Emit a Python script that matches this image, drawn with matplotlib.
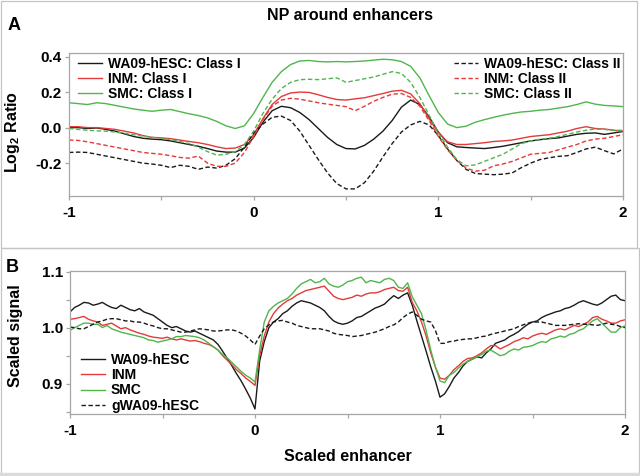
import numpy as np
import matplotlib
matplotlib.use('Agg')
import matplotlib.pyplot as plt
from matplotlib.patches import Rectangle

plt.rcParams['font.family'] = ['Liberation Sans', 'DejaVu Sans']
plt.rcParams['font.weight'] = 'bold'
plt.rcParams['mathtext.fontset'] = 'custom'
plt.rcParams['mathtext.rm'] = 'Liberation Sans:bold'
plt.rcParams['mathtext.bf'] = 'Liberation Sans:bold'

# ---- panel A: NP around enhancers (log2 ratio), x = -1 .. 2 step 0.05
x_a = np.round(np.arange(-1.0, 2.0001, 0.05), 3)

wa09_class1 = [
    0.000, 0.000, -0.005, -0.002, -0.010, -0.020, -0.035, -0.050, -0.060, -0.065,
    -0.068, -0.075, -0.085, -0.095, -0.105, -0.118, -0.132, -0.138, -0.138, -0.115,
    -0.055, 0.030, 0.095, 0.120, 0.112, 0.085, 0.045, -0.005, -0.055, -0.095,
    -0.118, -0.120, -0.100, -0.065, -0.020, 0.040, 0.115, 0.155, 0.130, 0.060,
    -0.025, -0.085, -0.108, -0.112, -0.115, -0.118, -0.112, -0.105, -0.095, -0.085,
    -0.075, -0.068, -0.062, -0.058, -0.048, -0.038, -0.032, -0.030, -0.038, -0.030, -0.022]
inm_class1 = [
    0.005, 0.005, 0.000, 0.000, -0.005, -0.010, -0.020, -0.030, -0.045, -0.055,
    -0.058, -0.062, -0.070, -0.078, -0.085, -0.095, -0.108, -0.118, -0.115, -0.095,
    -0.040, 0.050, 0.130, 0.175, 0.195, 0.200, 0.198, 0.185, 0.170, 0.158,
    0.155, 0.162, 0.168, 0.180, 0.192, 0.205, 0.210, 0.190, 0.135, 0.050,
    -0.030, -0.080, -0.095, -0.095, -0.090, -0.085, -0.078, -0.075, -0.070, -0.060,
    -0.050, -0.045, -0.040, -0.030, -0.020, -0.005, 0.005, -0.005, -0.008, -0.015, -0.020]
smc_class1 = [
    0.140, 0.135, 0.130, 0.140, 0.135, 0.125, 0.115, 0.105, 0.098, 0.092,
    0.098, 0.102, 0.090, 0.078, 0.068, 0.055, 0.035, 0.010, -0.005, 0.010,
    0.080, 0.170, 0.255, 0.315, 0.355, 0.375, 0.378, 0.372, 0.370, 0.372,
    0.370, 0.372, 0.375, 0.380, 0.385, 0.382, 0.372, 0.345, 0.280, 0.180,
    0.085, 0.020, 0.000, 0.008, 0.030, 0.045, 0.058, 0.070, 0.080, 0.088,
    0.092, 0.098, 0.102, 0.110, 0.118, 0.130, 0.145, 0.132, 0.125, 0.122, 0.118]
wa09_class2 = [
    -0.140, -0.138, -0.140, -0.150, -0.160, -0.170, -0.180, -0.190, -0.200, -0.205,
    -0.212, -0.225, -0.212, -0.218, -0.235, -0.222, -0.228, -0.212, -0.175, -0.110,
    -0.030, 0.020, 0.058, 0.065, 0.040, -0.020, -0.100, -0.180, -0.255, -0.315,
    -0.345, -0.345, -0.310, -0.245, -0.165, -0.090, -0.025, 0.015, 0.035, 0.015,
    -0.045, -0.120, -0.185, -0.235, -0.258, -0.262, -0.265, -0.262, -0.255, -0.225,
    -0.200, -0.180, -0.170, -0.162, -0.158, -0.140, -0.120, -0.110, -0.130, -0.148, -0.120]
inm_class2 = [
    -0.070, -0.072, -0.080, -0.090, -0.100, -0.110, -0.120, -0.130, -0.140, -0.145,
    -0.150, -0.158, -0.168, -0.172, -0.160, -0.200, -0.218, -0.218, -0.200, -0.140,
    -0.050, 0.045, 0.120, 0.155, 0.165, 0.160, 0.150, 0.140, 0.132, 0.125,
    0.118, 0.095, 0.120, 0.148, 0.170, 0.188, 0.192, 0.170, 0.120, 0.040,
    -0.050, -0.125, -0.185, -0.228, -0.245, -0.240, -0.215, -0.205, -0.190, -0.170,
    -0.150, -0.145, -0.140, -0.125, -0.110, -0.095, -0.075, -0.065, -0.060, -0.050, -0.040]
smc_class2 = [
    -0.005, -0.010, -0.015, -0.018, -0.020, -0.025, -0.032, -0.040, -0.048, -0.055,
    -0.060, -0.068, -0.078, -0.090, -0.110, -0.135, -0.155, -0.150, -0.135, -0.095,
    -0.020, 0.080, 0.160, 0.220, 0.255, 0.270, 0.272, 0.270, 0.275, 0.280,
    0.255, 0.265, 0.275, 0.285, 0.300, 0.315, 0.305, 0.255, 0.170, 0.070,
    -0.030, -0.110, -0.180, -0.215, -0.210, -0.190, -0.170, -0.150, -0.120, -0.090,
    -0.075, -0.065, -0.060, -0.050, -0.038, -0.025, -0.015, -0.008, -0.010, -0.015, -0.015]

# ---- panel B: scaled signal, x = -1 .. 2 step 0.025
x_b = np.round(np.arange(-1.0, 2.0001, 0.025), 3)
wa09_sig = [
    1.028, 1.036, 1.040, 1.045, 1.044, 1.040, 1.042, 1.045, 1.040, 1.036,
    1.034, 1.040, 1.036, 1.032, 1.030, 1.034, 1.028, 1.025, 1.022, 1.016,
    1.010, 1.004, 1.000, 1.002, 0.998, 0.994, 0.992, 0.994, 0.990, 0.986,
    0.982, 0.978, 0.970, 0.958, 0.945, 0.932, 0.918, 0.905, 0.890, 0.874,
    0.855, 0.940, 0.975, 1.000, 1.010, 1.016, 1.025, 1.030, 1.038, 1.044,
    1.048, 1.046, 1.044, 1.040, 1.036, 1.030, 1.020, 1.012, 1.008, 1.006,
    1.008, 1.012, 1.018, 1.020, 1.025, 1.030, 1.035, 1.038, 1.042, 1.050,
    1.057, 1.052, 1.058, 1.062, 1.040, 1.012, 0.985, 0.958, 0.930, 0.905,
    0.876, 0.882, 0.895, 0.910, 0.920, 0.932, 0.940, 0.944, 0.948, 0.946,
    0.955, 0.962, 0.972, 0.975, 0.978, 0.984, 0.988, 0.993, 1.000, 1.006,
    1.010, 1.012, 1.018, 1.022, 1.025, 1.028, 1.030, 1.034, 1.036, 1.040,
    1.045, 1.048, 1.045, 1.042, 1.040, 1.044, 1.050, 1.056, 1.058, 1.050,
    1.048]
inm_sig = [
    1.015, 1.016, 1.018, 1.020, 1.015, 1.012, 1.010, 1.004, 1.006, 1.008,
    1.003, 0.998, 1.000, 0.996, 0.993, 0.990, 0.988, 0.985, 0.983, 0.982,
    0.981, 0.983, 0.980, 0.978, 0.980, 0.978, 0.976, 0.977, 0.975, 0.972,
    0.970, 0.966, 0.960, 0.950, 0.942, 0.934, 0.925, 0.918, 0.910, 0.904,
    0.897, 0.950, 0.985, 1.010, 1.025, 1.035, 1.042, 1.048, 1.052, 1.058,
    1.062, 1.066, 1.068, 1.070, 1.072, 1.074, 1.065, 1.056, 1.052, 1.050,
    1.052, 1.054, 1.058, 1.056, 1.060, 1.062, 1.062, 1.064, 1.068, 1.070,
    1.072, 1.066, 1.065, 1.072, 1.045, 1.030, 1.010, 0.985, 0.955, 0.930,
    0.910, 0.908, 0.915, 0.925, 0.932, 0.940, 0.945, 0.946, 0.950, 0.955,
    0.962, 0.968, 0.968, 0.962, 0.966, 0.970, 0.975, 0.978, 0.982, 0.980,
    0.985, 0.988, 0.990, 0.988, 0.992, 0.996, 0.998, 0.996, 1.000, 1.004,
    1.002, 1.006, 1.010, 1.018, 1.020, 1.015, 1.012, 1.008, 1.008, 1.012,
    1.014]
smc_sig = [
    0.995, 1.000, 1.004, 1.008, 1.008, 1.006, 1.006, 1.000, 1.004, 0.998,
    0.995, 0.992, 0.990, 0.988, 0.986, 0.984, 0.982, 0.978, 0.977, 0.974,
    0.976, 0.978, 0.980, 0.984, 0.984, 0.986, 0.985, 0.984, 0.982, 0.978,
    0.972, 0.966, 0.960, 0.952, 0.946, 0.938, 0.930, 0.922, 0.915, 0.910,
    0.903, 0.960, 1.010, 1.030, 1.038, 1.044, 1.048, 1.052, 1.060, 1.070,
    1.078, 1.082, 1.086, 1.080, 1.082, 1.088, 1.078, 1.074, 1.072, 1.076,
    1.082, 1.084, 1.088, 1.090, 1.080, 1.084, 1.082, 1.080, 1.086, 1.088,
    1.084, 1.072, 1.070, 1.080, 1.055, 1.040, 1.025, 0.995, 0.960, 0.930,
    0.905, 0.902, 0.915, 0.920, 0.928, 0.935, 0.940, 0.944, 0.948, 0.952,
    0.958, 0.960, 0.955, 0.950, 0.952, 0.958, 0.962, 0.960, 0.965, 0.966,
    0.968, 0.972, 0.975, 0.974, 0.980, 0.982, 0.985, 0.983, 0.988, 0.990,
    0.995, 0.998, 1.005, 1.012, 1.016, 1.008, 1.000, 0.992, 0.992, 1.000,
    1.003]
gwa09_sig = [
    1.001, 1.000, 0.998, 0.998, 1.002, 1.006, 1.010, 1.012, 1.015, 1.016,
    1.016, 1.014, 1.012, 1.012, 1.010, 1.010, 1.008, 1.005, 1.003, 1.000,
    0.998, 0.998, 0.996, 0.994, 0.992, 0.992, 0.994, 0.996, 0.998, 0.997,
    0.996, 0.994, 0.994, 0.995, 0.996, 0.996, 0.994, 0.990, 0.985, 0.978,
    0.970, 0.985, 0.998, 1.005, 1.010, 1.012, 1.013, 1.010, 1.008, 1.004,
    1.002, 1.000, 0.998, 0.998, 0.998, 0.996, 0.994, 0.990, 0.988, 0.987,
    0.986, 0.984, 0.985, 0.986, 0.988, 0.990, 0.992, 0.995, 0.998, 1.002,
    1.005, 1.010, 1.018, 1.024, 1.028, 1.022, 1.015, 1.012, 1.010, 0.995,
    0.972, 0.972, 0.975, 0.976, 0.978, 0.979, 0.980, 0.980, 0.982, 0.984,
    0.985, 0.988, 0.990, 0.992, 0.994, 0.996, 0.998, 1.002, 1.005, 1.008,
    1.010, 1.010, 1.010, 1.008, 1.006, 1.004, 1.004, 1.004, 1.005, 1.006,
    1.007, 1.006, 1.006, 1.005, 1.004, 1.006, 1.008, 1.006, 1.005, 1.002,
    1.000]

x_ticks = [-1, -0.5, 0, 0.5, 1, 1.5, 2]
x_ticklabels = ['-1', '', '0', '', '1', '', '2']

BLACK = '#1a1a1a'
RED = '#e5393a'
GREEN = '#4fb64c'
SPINE = '#a6a6a6'
DASH = (0, (3.2, 1.8))

W, H = 640, 476
fig = plt.figure(figsize=(W / 100, H / 100), dpi=100)


def fx(px):
    return px / W


def fy(py):
    return 1 - py / H


def style_axes(ax):
    for s in ax.spines.values():
        s.set_color(SPINE)
        s.set_linewidth(0.9)
    ax.tick_params(direction='out', length=3, width=0.9, color=SPINE,
                   labelsize=11, labelcolor='black')
    ax.tick_params(axis='x', pad=4)
    ax.tick_params(axis='y', pad=2)
    ax.set_xlim(-1, 2)
    ax.set_xticks(x_ticks)
    ax.set_xticklabels(x_ticklabels, fontweight='bold')


# panel frames
fig.add_artist(Rectangle((fx(1), fy(248)), fx(636), 247 / H, transform=fig.transFigure,
                         fill=False, edgecolor='#c4c4c4', lw=0.9))
fig.add_artist(Rectangle((fx(1), fy(473)), fx(638), 225 / H, transform=fig.transFigure,
                         fill=False, edgecolor='#c4c4c4', lw=0.9))
fig.add_artist(Rectangle((0, 0), 1, 3 / H, transform=fig.transFigure,
                         facecolor='#dadada', edgecolor='none'))

leg_kw = dict(frameon=False, fontsize=10, borderpad=0, labelspacing=0.08,
              handlelength=1.75, handletextpad=0.4, borderaxespad=0)

# ---------- panel A
ax1 = fig.add_axes([fx(69), fy(196), fx(623 - 69), (196 - 53) / H])
style_axes(ax1)
l1, = ax1.plot(x_a, wa09_class1, color=BLACK, lw=1.0)
l2, = ax1.plot(x_a, inm_class1, color=RED, lw=1.0)
l3, = ax1.plot(x_a, smc_class1, color=GREEN, lw=1.0)
l4, = ax1.plot(x_a, wa09_class2, color=BLACK, lw=1.0, ls=DASH)
l5, = ax1.plot(x_a, inm_class2, color=RED, lw=1.0, ls=DASH)
l6, = ax1.plot(x_a, smc_class2, color=GREEN, lw=1.0, ls=DASH)
ax1.set_ylim(-0.385, 0.42)
ax1.set_yticks([-0.2, 0.0, 0.2, 0.4])
ax1.set_yticklabels(['-0.2', '0.0', '0.2', '0.4'], fontweight='bold')
ax1.set_ylabel(r'$\mathbf{Log_2}$ Ratio', fontsize=11.5, fontweight='bold')
ax1.yaxis.set_label_coords(-0.085, 0.45)

leg1 = ax1.legend([l1, l2, l3], ['WA09-hESC: Class I', 'INM: Class I', 'SMC: Class I'],
                  loc='upper left', bbox_to_anchor=(0.016, 0.972), **leg_kw)
ax1.add_artist(leg1)
ax1.legend([l4, l5, l6], ['WA09-hESC: Class II', 'INM: Class II', 'SMC: Class II'],
           loc='upper right', bbox_to_anchor=(0.995, 0.972), **leg_kw)

# ---------- panel B
ax2 = fig.add_axes([fx(70), fy(414), fx(625 - 70), (414 - 271) / H])
style_axes(ax2)
m1, = ax2.plot(x_b, wa09_sig, color=BLACK, lw=1.0)
m2, = ax2.plot(x_b, inm_sig, color=RED, lw=1.0)
m3, = ax2.plot(x_b, smc_sig, color=GREEN, lw=1.0)
m4, = ax2.plot(x_b, gwa09_sig, color=BLACK, lw=1.0, ls=DASH)
ax2.set_ylim(0.846, 1.101)
ax2.set_yticks([0.85, 0.9, 0.95, 1.0, 1.05, 1.1])
ax2.set_yticklabels(['', '0.9', '', '1.0', '', '1.1'], fontweight='bold')
ax2.set_ylabel('Scaled signal', fontsize=11.5, fontweight='bold')
ax2.yaxis.set_label_coords(-0.085, 0.55)
ax2.set_xlabel('Scaled enhancer', fontsize=11.5, fontweight='bold')
ax2.xaxis.set_label_coords(0.5, -0.245)
ax2.legend([m1, m2, m3, m4], ['WA09-hESC', 'INM', 'SMC', 'gWA09-hESC'],
           loc='lower left', bbox_to_anchor=(0.02, 0.01), **leg_kw)

# titles and panel letters
fig.text(fx(350), fy(16), 'NP around enhancers', ha='center', va='center',
         fontsize=11.5, fontweight='bold')
fig.text(fx(14), fy(25), 'A', ha='center', va='center', fontsize=13, fontweight='bold')
fig.text(fx(12), fy(268), 'B', ha='center', va='center', fontsize=13, fontweight='bold')

fig.savefig('out.png', dpi=100)
